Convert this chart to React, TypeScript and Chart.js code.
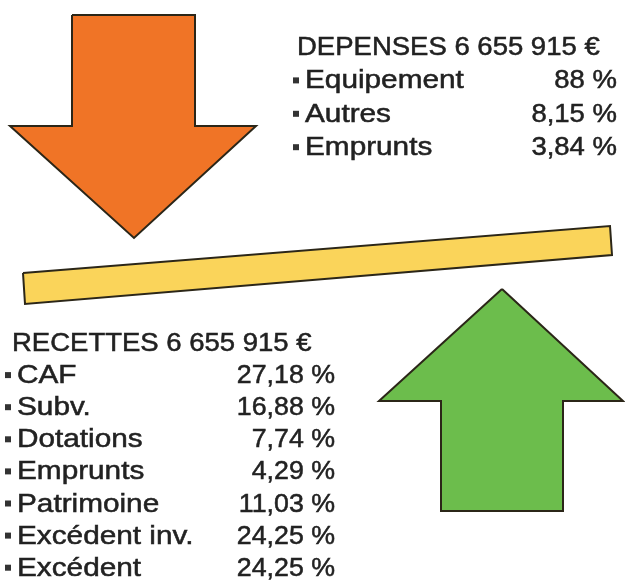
import React, { useEffect, useRef } from "react";
import { Chart, registerables } from "chart.js";

Chart.register(...registerables);

// ---- Data ----
const depensesTitle = "DEPENSES 6 655 915 €";
const depensesLabels = ["Equipement", "Autres", "Emprunts"];
const depensesValues = [88, 8.15, 3.84];

const recettesTitle = "RECETTES 6 655 915 €";
const recettesLabels = ["CAF", "Subv.", "Dotations", "Emprunts", "Patrimoine", "Excédent inv.", "Excédent"];
const recettesValues = [27.18, 16.88, 7.74, 4.29, 11.03, 24.25, 24.25];

// Shapes (vertices in the infographic's own coordinate space)
const downArrow = [
  { x: 72, y: 15 }, { x: 195, y: 15 }, { x: 195, y: 126 }, { x: 256, y: 126 },
  { x: 134, y: 238 }, { x: 10, y: 126 }, { x: 72, y: 126 }, { x: 72, y: 15 },
];
const beam = [
  { x: 23, y: 273 }, { x: 610, y: 226 }, { x: 612, y: 255 }, { x: 25, y: 304 }, { x: 23, y: 273 },
];
const upArrow = [
  { x: 502, y: 289 }, { x: 623, y: 401 }, { x: 563, y: 401 }, { x: 563, y: 511 },
  { x: 441, y: 511 }, { x: 441, y: 401 }, { x: 379, y: 401 }, { x: 502, y: 289 },
];

const W = 625;
const H = 586;

const fmt = (v: number) => String(v).replace(".", ",") + " %";

const polygonFill = {
  id: "polygonFill",
  beforeDatasetDraw(chart: any, args: any) {
    const meta = args.meta;
    const ds = chart.data.datasets[args.index];
    const pts = meta.data;
    if (!pts.length) return;
    const ctx = chart.ctx;
    ctx.save();
    ctx.beginPath();
    ctx.moveTo(pts[0].x, pts[0].y);
    for (let i = 1; i < pts.length; i++) ctx.lineTo(pts[i].x, pts[i].y);
    ctx.closePath();
    ctx.fillStyle = ds.backgroundColor;
    ctx.fill();
    ctx.restore();
  },
};

const textBlocks = {
  id: "textBlocks",
  afterDraw(chart: any) {
    const ctx = chart.ctx;
    const xs = chart.scales.x;
    const ys = chart.scales.y;
    const fontPx = 25;
    ctx.save();
    ctx.fillStyle = "#222222";
    ctx.strokeStyle = "#222222";
    ctx.lineWidth = 0.5;
    ctx.font = `${fontPx}px "Liberation Sans", Arial, sans-serif`;
    ctx.textBaseline = "alphabetic";

    const draw = (t: string, x: number, y: number, align: "left" | "right", sx: number) => {
      ctx.save();
      ctx.translate(xs.getPixelForValue(x), ys.getPixelForValue(y));
      ctx.scale(sx, 1);
      ctx.textAlign = align;
      ctx.fillText(t, 0, 0);
      ctx.strokeText(t, 0, 0);
      ctx.restore();
    };
    const bullet = (x: number, y: number) => {
      const px = xs.getPixelForValue(x);
      const py = ys.getPixelForValue(y);
      ctx.fillStyle = "#333333";
      ctx.fillRect(px, py - 11, 6, 6);
      ctx.fillStyle = "#222222";
    };

    // Dépenses block
    const dBase = 55;
    const dStep = 33.4;
    draw(depensesTitle, 297, dBase, "left", 1.1);
    depensesLabels.forEach((l, i) => {
      const y = dBase + dStep * (i + 1);
      bullet(293, y);
      draw(l, 305, y, "left", 1.19);
      draw(fmt(depensesValues[i]), 617, y, "right", 1.1);
    });

    // Recettes block
    const rBase = 351;
    const rStep = 32.1;
    draw(recettesTitle, 12, rBase, "left", 1.1);
    recettesLabels.forEach((l, i) => {
      const y = rBase + rStep * (i + 1);
      bullet(5, y);
      draw(l, 17, y, "left", 1.19);
      draw(fmt(recettesValues[i]), 335, y, "right", 1.07);
    });
    ctx.restore();
  },
};

export default function App() {
  const ref = useRef<HTMLCanvasElement | null>(null);
  useEffect(() => {
    if (!ref.current) return;
    const border = "#2b2618";
    const chart = new Chart(ref.current, {
      type: "scatter",
      data: {
        datasets: [
          { label: "Dépenses", data: downArrow, backgroundColor: "#F07426", borderColor: border },
          { label: "Balance", data: beam, backgroundColor: "#FAD45A", borderColor: border },
          { label: "Recettes", data: upArrow, backgroundColor: "#6CBD4C", borderColor: border },
        ].map((d) => ({
          ...d,
          showLine: true,
          fill: false,
          borderWidth: 2,
          pointRadius: 0,
          pointHoverRadius: 0,
          tension: 0,
          clip: false as any,
        })),
      },
      options: {
        animation: false,
        responsive: false,
        maintainAspectRatio: false,
        layout: { padding: 0 },
        events: [],
        scales: {
          x: { type: "linear", min: 0, max: W, display: false },
          y: { type: "linear", min: 0, max: H, reverse: true, display: false },
        },
        plugins: { legend: { display: false }, tooltip: { enabled: false } },
      },
      plugins: [polygonFill, textBlocks],
    });
    return () => chart.destroy();
  }, []);

  return (
    <div style={{ position: "fixed", left: 0, top: 0, width: W, height: H, background: "#fff" }}>
      <canvas ref={ref} width={W} height={H} style={{ display: "block" }} />
    </div>
  );
}
